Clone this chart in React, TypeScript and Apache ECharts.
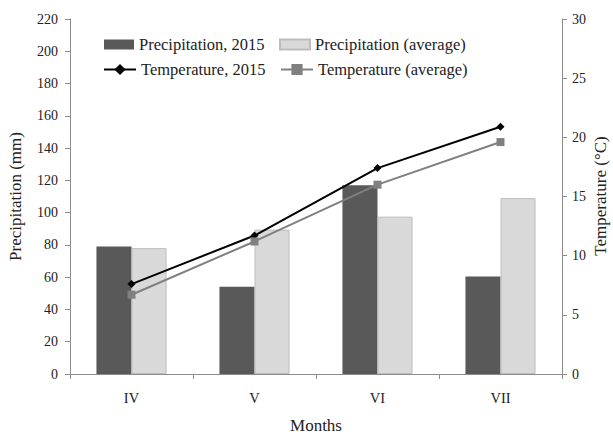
import React, { useEffect, useRef } from "react";
import * as echarts from "echarts";

const months = ["IV", "V", "VI", "VII"];
const precip2015 = [79, 54, 117, 60.5];
const precipAvg = [78, 89.5, 97.5, 109];
const temp2015 = [7.6, 11.7, 17.4, 20.9];
const tempAvg = [6.7, 11.2, 16.0, 19.6];

const FONT = "'Liberation Serif', serif";
const AXIS_COLOR = "#8c8c8c";
const TEXT_COLOR = "#222";

export default function App() {
  const ref = useRef<HTMLDivElement>(null);
  useEffect(() => {
    if (!ref.current) return;
    const chart = echarts.init(ref.current, undefined, { renderer: "svg" });
    const legendText = { fontFamily: FONT, fontSize: 16.5, color: TEXT_COLOR };
    chart.setOption({
      animation: false,
      textStyle: { fontFamily: FONT },
      grid: { left: 70, right: 51, top: 19, bottom: 61, containLabel: false, outerBoundsMode: "none" },
      graphic: [
        {
          type: "text",
          x: 600,
          y: 196,
          rotation: Math.PI / 2,
          style: {
            text: "Temperature (°C)",
            fontFamily: FONT,
            fontSize: 17,
            fill: TEXT_COLOR,
            textAlign: "center",
            textVerticalAlign: "middle",
          },
        },
      ],
      legend: [
        { data: ["Precipitation, 2015"], left: 104, top: 36, itemWidth: 30, itemHeight: 10, itemGap: 4, textStyle: legendText, icon: "rect", padding: 0 },
        { data: ["Precipitation (average)"], left: 279, top: 36, itemWidth: 30, itemHeight: 10, textStyle: legendText, icon: "rect", padding: 0 },
        { data: ["Temperature, 2015"], left: 103, top: 61, itemWidth: 32, itemHeight: 14, textStyle: legendText, padding: 0 },
        { data: ["Temperature (average)"], left: 280, top: 61, itemWidth: 32, itemHeight: 14, textStyle: legendText, padding: 0 },
      ],
      xAxis: {
        type: "category",
        data: months,
        name: "Months",
        nameLocation: "middle",
        nameGap: 43,
        nameTextStyle: { fontFamily: FONT, fontSize: 17, color: TEXT_COLOR },
        axisLine: { lineStyle: { color: AXIS_COLOR } },
        axisTick: { show: true, length: 5, lineStyle: { color: AXIS_COLOR } },
        axisLabel: { fontFamily: FONT, fontSize: 14.5, color: TEXT_COLOR, margin: 16 },
      },
      yAxis: [
        {
          type: "value",
          min: 0,
          max: 220,
          interval: 20,
          name: "Precipitation (mm)",
          nameLocation: "middle",
          nameGap: 46,
          nameRotate: 90,
          nameTextStyle: { fontFamily: FONT, fontSize: 17, color: TEXT_COLOR },
          axisLine: { show: true, lineStyle: { color: AXIS_COLOR } },
          axisTick: { show: true, length: 5, lineStyle: { color: AXIS_COLOR } },
          axisLabel: { fontFamily: FONT, fontSize: 14, color: TEXT_COLOR, margin: 12 },
          splitLine: { show: false },
        },
        {
          type: "value",
          min: 0,
          max: 30,
          interval: 5,
          position: "right",
          axisLine: { show: true, lineStyle: { color: AXIS_COLOR } },
          axisTick: { show: true, length: 5, inside: false, lineStyle: { color: AXIS_COLOR } },
          axisLabel: { fontFamily: FONT, fontSize: 14, color: TEXT_COLOR, margin: 10 },
          splitLine: { show: false },
        },
      ],
      series: [
        {
          name: "Precipitation, 2015",
          type: "bar",
          data: precip2015,
          barGap: "0%",
          barCategoryGap: "43%",
          itemStyle: { color: "#595959" },
        },
        {
          name: "Precipitation (average)",
          type: "bar",
          data: precipAvg,
          itemStyle: { color: "#d9d9d9", borderColor: "#bdbdbd", borderWidth: 1 },
        },
        {
          name: "Temperature, 2015",
          type: "line",
          yAxisIndex: 1,
          data: temp2015,
          symbol: "diamond",
          symbolSize: 8,
          lineStyle: { color: "#000", width: 2 },
          itemStyle: { color: "#000" },
        },
        {
          name: "Temperature (average)",
          type: "line",
          yAxisIndex: 1,
          data: tempAvg,
          symbol: "rect",
          symbolSize: 8,
          lineStyle: { color: "#808080", width: 2 },
          itemStyle: { color: "#808080" },
        },
      ],
    });
    return () => chart.dispose();
  }, []);
  return <div ref={ref} style={{ width: 613, height: 435, position: "absolute", left: 0, top: 0 }} />;
}
